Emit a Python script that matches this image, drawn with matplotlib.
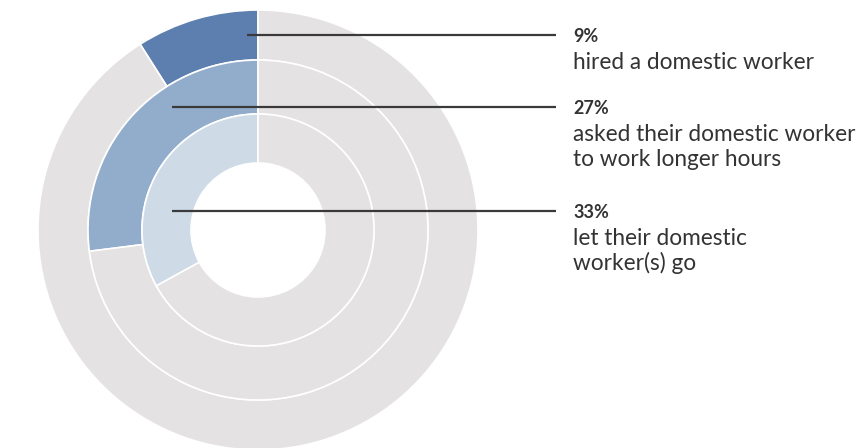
import matplotlib.pyplot as plt

# share of households, outer ring to inner ring
shares = [9, 27, 33]
pct_labels = ["9%", "27%", "33%"]
descriptions = [
    ["hired a domestic worker"],
    ["asked their domestic worker", "to work longer hours"],
    ["let their domestic", "worker(s) go"],
]

ring_colors = ["#5d7faf", "#92adcb", "#cedbe7"]
track_color = "#e4e2e3"

W, H = 867, 448
fig = plt.figure(figsize=(W / 100, H / 100), dpi=100)
ax = fig.add_axes([0, 0, 1, 1])

cx, cy = 258, H - 230
radii = [220, 170, 116]
widths = [50, 54, 49]

for share, col, r, w in zip(shares, ring_colors, radii, widths):
    ax.pie([share, 100 - share], colors=[col, track_color], radius=r,
           center=(cx, cy), startangle=90, counterclock=True,
           wedgeprops=dict(width=w, edgecolor="white", linewidth=1.2))

# leader lines and labels
line_y = [H - 35, H - 107, H - 211]
line_x0 = [247, 172, 172]
text_x = 573
for y, x0, pct, desc in zip(line_y, line_x0, pct_labels, descriptions):
    ax.plot([x0, 556], [y, y], color="#3a3a3a", lw=1.6, solid_capstyle="butt", zorder=5)
    ax.text(text_x, y - 1, pct, fontsize=13, fontweight="bold", color="#333333",
            family="Lato", va="center", ha="left")
    for i, line in enumerate(desc):
        ax.text(text_x, y - 27 - 25 * i, line, fontsize=16.3, color="#333333",
                family="Lato", va="center", ha="left")

ax.set_xlim(0, W)
ax.set_ylim(0, H)
ax.set_aspect("equal")
ax.axis("off")

fig.savefig("out.png", dpi=100)
